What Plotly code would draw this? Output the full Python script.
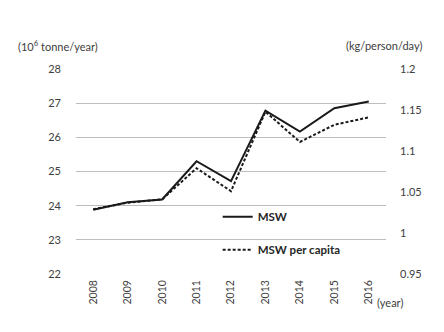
import plotly.graph_objects as go

years = ["2008", "2009", "2010", "2011", "2012", "2013", "2014", "2015", "2016"]
msw = [23.88, 24.1, 24.18, 25.3, 24.72, 26.78, 26.17, 26.85, 27.05]
msw_per_capita = [1.029, 1.037, 1.041, 1.079, 1.051, 1.148, 1.111, 1.132, 1.141]

left_ticks = [22, 23, 24, 25, 26, 27, 28]
right_ticks = [0.95, 1.0, 1.05, 1.1, 1.15, 1.2]
right_ticklabels = ["0.95", "1", "1.05", "1.1", "1.15", "1.2"]

FONT = "Lato, 'Open Sans', sans-serif"
TXT = "#404040"

fig = go.Figure()
fig.add_trace(go.Scatter(
    x=years, y=msw, name="MSW", mode="lines",
    line=dict(color="#1a1a1a", width=2), legendgroup="a", yaxis="y"))
fig.add_trace(go.Scatter(
    x=years, y=msw_per_capita, name="MSW per capita", mode="lines",
    line=dict(color="#1a1a1a", width=2, dash="3px,2px"), legendgroup="b", yaxis="y2"))

fig.update_layout(
    width=444, height=332,
    margin=dict(l=76, r=57.5, t=69, b=58),
    paper_bgcolor="white", plot_bgcolor="white",
    font=dict(family=FONT, size=11, color=TXT),
    showlegend=True,
    legend=dict(x=0.457, y=0.35, xanchor="left", yanchor="top",
                bgcolor="rgba(0,0,0,0)", tracegroupgap=14,
                traceorder="grouped",
                font=dict(family=FONT, size=11.5, color="#262626", weight="bold")),
    xaxis=dict(type="category", range=[-0.5, 8.5], tickangle=-90, showgrid=False,
               showline=False, ticks="", ticklabelstandoff=3,
               tickfont=dict(size=10.5, color=TXT)),
    yaxis=dict(range=[22, 28], tickmode="array", tickvals=left_ticks, showgrid=True,
               gridcolor="#bdbdbd", gridwidth=1.2, zeroline=False, showline=False,
               ticks="", ticklabelstandoff=14, tickfont=dict(size=11, color=TXT)),
    yaxis2=dict(range=[0.95, 1.2], tickmode="array", tickvals=right_ticks,
                ticktext=right_ticklabels,
                overlaying="y", side="right", showgrid=False, zeroline=False,
                showline=False, ticks="", ticklabelstandoff=13,
                tickfont=dict(size=11, color=TXT)),
    annotations=[
        dict(text="(10<sup>6</sup> tonne/year)", xref="paper", yref="paper",
             x=-0.195, y=1.117, xanchor="left", yanchor="middle", showarrow=False,
             font=dict(size=11, color=TXT)),
        dict(text="(kg/person/day)", xref="paper", yref="paper",
             x=1.121, y=1.117, xanchor="right", yanchor="middle", showarrow=False,
             font=dict(size=11, color=TXT)),
        dict(text="(year)", xref="paper", yref="paper",
             x=0.966, y=-0.14, xanchor="left", yanchor="middle", showarrow=False,
             font=dict(size=11, color=TXT)),
    ],
)

fig.write_html("out.html")
